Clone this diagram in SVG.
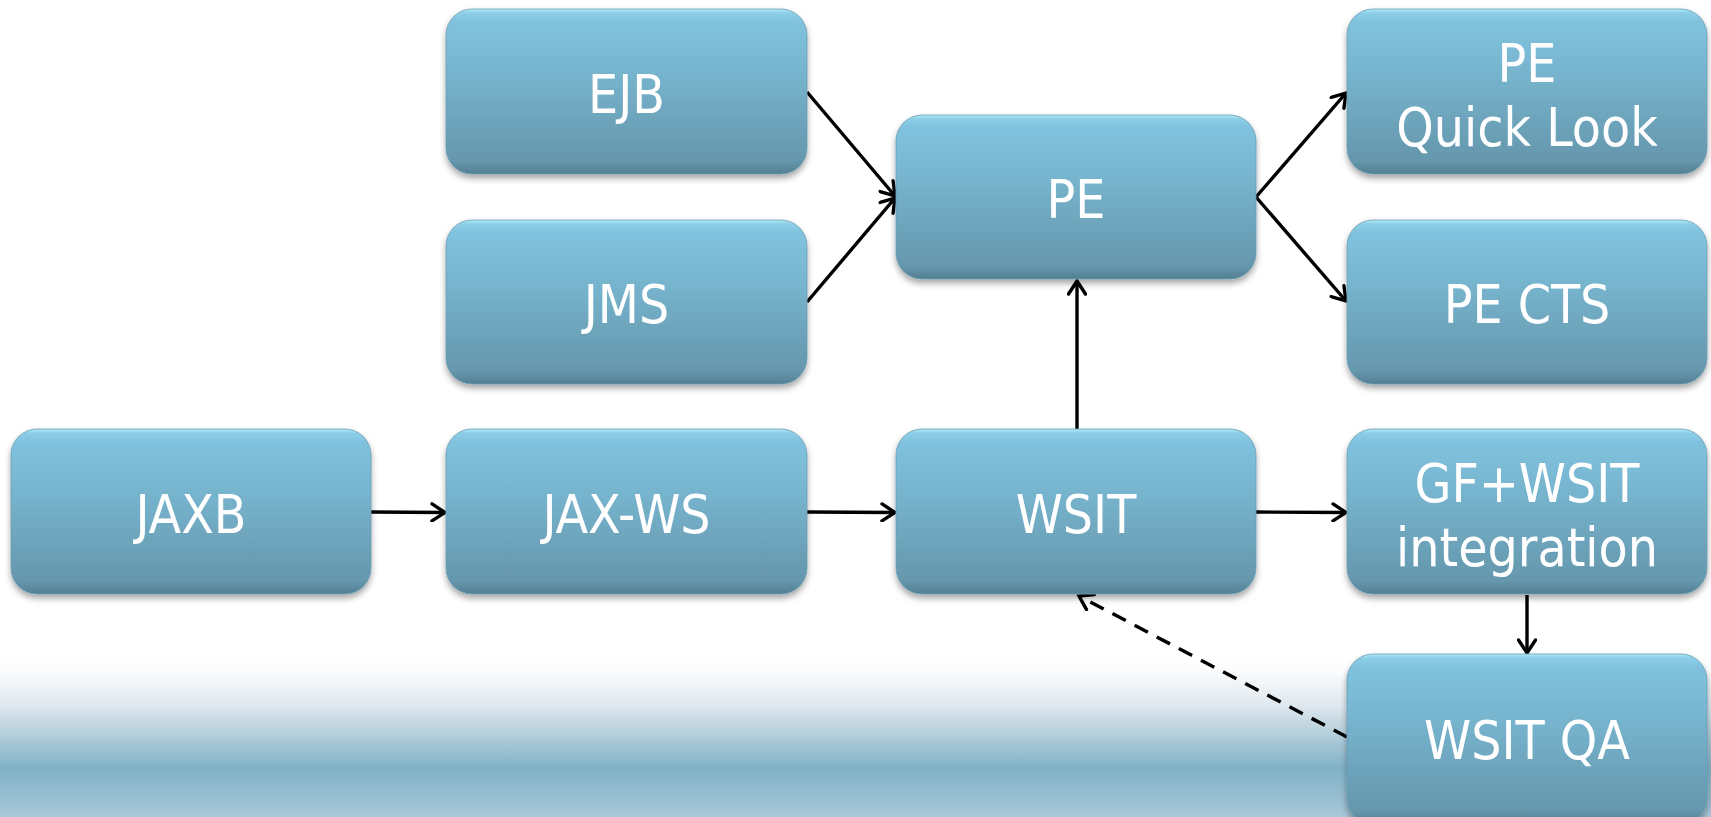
<svg xmlns="http://www.w3.org/2000/svg" width="1711" height="817" viewBox="0 0 1711 817">
<defs>
<linearGradient id="bg" x1="0" y1="0" x2="0" y2="1">
<stop offset="0" stop-color="#ffffff"/>
<stop offset="0.1" stop-color="#fbfcfd"/>
<stop offset="0.3" stop-color="#e0e9ef"/>
<stop offset="0.5" stop-color="#b2cdda"/>
<stop offset="0.7" stop-color="#80b2c8"/>
<stop offset="1" stop-color="#a8c7d8"/>
</linearGradient>
<linearGradient id="nodeFill" x1="0" y1="0" x2="0" y2="1">
<stop offset="0" stop-color="#b0ecfa"/>
<stop offset="0.025" stop-color="#8ccde6"/>
<stop offset="0.08" stop-color="#80c2de"/>
<stop offset="0.35" stop-color="#78b6d0"/>
<stop offset="0.92" stop-color="#6597ad"/>
<stop offset="1" stop-color="#547f93"/>
</linearGradient>
<filter id="shadow" x="-5%" y="-10%" width="110%" height="125%">
<feDropShadow dx="0" dy="4" stdDeviation="3" flood-color="#000" flood-opacity="0.35"/>
</filter>
<marker id="arrow" viewBox="0 0 20 20" refX="17" refY="10" markerWidth="20" markerHeight="20" markerUnits="userSpaceOnUse" orient="auto">
<path d="M4,1.5 L17,10 L4,18.5" fill="none" stroke="#000" stroke-width="3.4" stroke-linecap="round" stroke-linejoin="miter"/>
</marker>
<style>
.node rect{fill:url(#nodeFill);stroke:#6a9db3;stroke-width:0.8;filter:url(#shadow);}
.node text{fill:#ffffff;font-family:"DejaVu Sans Condensed","DejaVu Sans",sans-serif;font-stretch:condensed;font-size:53px;text-anchor:middle;}
.conn line{stroke:#000;stroke-width:3.4;fill:none;marker-end:url(#arrow);}
.conn .dash{stroke-dasharray:15 10;}
</style>
</defs>
<rect x="0" y="0" width="1711" height="817" fill="#ffffff"/>
<rect x="0" y="655" width="1711" height="162" fill="url(#bg)"/>

<g id="connectors" class="conn">
<line x1="807" y1="92" x2="895" y2="196"/>
<line x1="807" y1="302" x2="895" y2="198"/>
<line x1="1256" y1="197" x2="1346" y2="93"/>
<line x1="1256" y1="197" x2="1346" y2="301"/>
<line x1="1077" y1="429" x2="1077" y2="281"/>
<line x1="371" y1="512" x2="445" y2="512.5"/>
<line x1="807" y1="512" x2="895" y2="512.5"/>
<line x1="1256" y1="512" x2="1346" y2="512.5"/>
<line x1="1527" y1="595" x2="1527" y2="653"/>
<line class="dash" x1="1347" y1="737" x2="1079" y2="596"/>
</g>

<g id="node-ejb" class="node"><rect x="446" y="9" width="361" height="165" rx="26"/><text x="626.5" y="113">EJB</text></g>
<g id="node-jms" class="node"><rect x="446" y="220" width="361" height="164" rx="26"/><text x="626.5" y="323">JMS</text></g>
<g id="node-pe" class="node"><rect x="896" y="115" width="360" height="164" rx="26"/><text x="1076" y="218">PE</text></g>
<g id="node-pe-quicklook" class="node"><rect x="1347" y="9" width="360" height="165" rx="26"/><text x="1527" y="82">PE</text><text x="1527" y="146">Quick Look</text></g>
<g id="node-pe-cts" class="node"><rect x="1347" y="220" width="360" height="164" rx="26"/><text x="1527" y="323">PE CTS</text></g>
<g id="node-jaxb" class="node"><rect x="11" y="429" width="360" height="165" rx="26"/><text x="191" y="533">JAXB</text></g>
<g id="node-jaxws" class="node"><rect x="446" y="429" width="361" height="165" rx="26"/><text x="626.5" y="533">JAX-WS</text></g>
<g id="node-wsit" class="node"><rect x="896" y="429" width="360" height="165" rx="26"/><text x="1076" y="533">WSIT</text></g>
<g id="node-gf-wsit" class="node"><rect x="1347" y="429" width="360" height="165" rx="26"/><text x="1527" y="502">GF+WSIT</text><text x="1527" y="566">integration</text></g>
<g id="node-wsit-qa" class="node"><rect x="1347" y="654" width="360" height="170" rx="26"/><text x="1527" y="759">WSIT QA</text></g>
</svg>
